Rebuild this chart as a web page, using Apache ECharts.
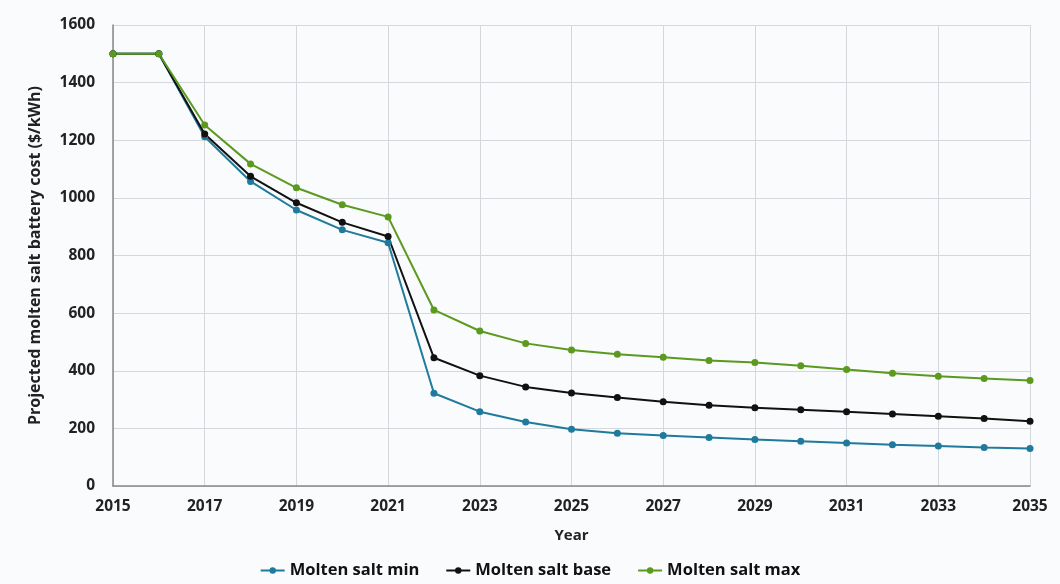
<!DOCTYPE html>
<html><head><meta charset="utf-8">
<script src="https://cdn.jsdelivr.net/npm/echarts@6/dist/echarts.min.js"></script>
<style>html,body{margin:0;padding:0;background:#f9fbfc;}#c{width:1060px;height:584px;}</style>
</head><body><div id="c"></div>
<script>
const years = ['2015','2016','2017','2018','2019','2020','2021','2022','2023','2024','2025','2026','2027','2028','2029','2030','2031','2032','2033','2034','2035'];
const moltenMin  = [1500,1500,1212,1057,958,889,844,322,258,222,197,183,175,168,161,155,149,143,139,134,130];
const moltenBase = [1500,1500,1222,1075,983,915,866,445,383,344,323,307,292,280,272,265,258,250,242,234,225];
const moltenMax  = [1500,1500,1253,1118,1035,976,934,611,538,495,472,457,447,436,429,417,404,391,381,373,366];
const yTicks = {min:0, max:1600, interval:200};
const font = '"Open Sans", "Liberation Sans", sans-serif';
const chart = echarts.init(document.getElementById('c'));
function s(name, data, color){
  return {name, type:'line', data, symbol:'circle', symbolSize:7, showSymbol:true,
    lineStyle:{color, width:2}, itemStyle:{color}, emphasis:{disabled:true}};
}
chart.setOption({
  backgroundColor:'#f9fbfc',
  animation:false,
  textStyle:{fontFamily:font},
  grid:{left:113, right:30, top:25, bottom:98},
  legend:{bottom:0, left:'center', itemGap:26, itemWidth:24, itemHeight:8,
    textStyle:{fontFamily:font, fontWeight:'bold', fontSize:16.5, color:'#111'},
    data:['Molten salt min','Molten salt base','Molten salt max']},
  xAxis:{type:'category', data:years, boundaryGap:false, name:'Year', nameLocation:'middle', nameGap:42,
    nameTextStyle:{fontFamily:font, fontWeight:'bold', fontSize:15, color:'#222'},
    axisLine:{lineStyle:{color:'#888', width:1.5}}, axisTick:{show:false},
    axisLabel:{interval:1, fontWeight:'bold', fontSize:15.5, color:'#222', margin:13, fontFamily:font},
    splitLine:{show:true, interval:1, lineStyle:{color:'#d4d8dc'}}},
  yAxis:{type:'value', min:yTicks.min, max:yTicks.max, interval:yTicks.interval,
    name:'Projected molten salt battery cost ($/kWh)', nameLocation:'middle', nameGap:70, nameRotate:90,
    nameTextStyle:{fontFamily:font, fontWeight:'bold', fontSize:16, color:'#222'},
    axisLine:{show:true, lineStyle:{color:'#888', width:1.5}}, axisTick:{show:false},
    axisLabel:{fontWeight:'bold', fontSize:15.5, color:'#222', margin:18, fontFamily:font,
      formatter: v => String(v)},
    splitLine:{lineStyle:{color:'#d4d8dc'}}},
  series:[s('Molten salt min', moltenMin, '#1f7a9c'), s('Molten salt base', moltenBase, '#111111'), s('Molten salt max', moltenMax, '#5b9a1e')]
});
</script></body></html>
